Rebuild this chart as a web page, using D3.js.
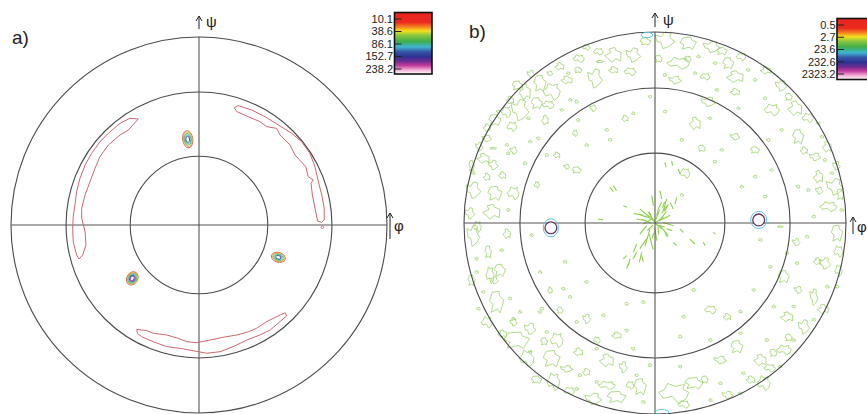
<!DOCTYPE html>
<html>
<head>
<meta charset="utf-8">
<script src="https://cdn.jsdelivr.net/npm/d3@7"></script>
<style>
  body { margin: 0; background: #fff; }
  svg { display: block; }
  text { font-family: "Liberation Sans", Arial, sans-serif; fill: #222; }
</style>
</head>
<body>
<script>
// pole figure rings (psi, degrees) - equal-area projection
const psiRings = [30, 60, 90];

// colour legend labels
const legendA = ["10.1", "38.6", "86.1", "152.7", "238.2"];
const legendB = ["0.5", "2.7", "23.6", "232.6", "2323.2"];

// a) level 10.1 contours, projected plane coords (outer circle = 1)
const contourUpperLeft = [[-0.323,0.564],[-0.367,0.568],[-0.420,0.541],[-0.473,0.496],[-0.527,0.443],[-0.571,0.381],[-0.606,0.319],[-0.633,0.248],[-0.651,0.177],[-0.660,0.106],[-0.669,0.044],[-0.672,-0.018],[-0.669,-0.089],[-0.651,-0.160],[-0.638,-0.181],[-0.619,-0.160],[-0.601,-0.106],[-0.606,-0.036],[-0.624,0.036],[-0.624,0.089],[-0.606,0.160],[-0.580,0.230],[-0.553,0.302],[-0.527,0.363],[-0.482,0.426],[-0.420,0.479],[-0.376,0.505]];
const contourUpperRight = [[0.188,0.624],[0.209,0.635],[0.280,0.612],[0.351,0.576],[0.422,0.532],[0.493,0.488],[0.546,0.443],[0.590,0.381],[0.617,0.310],[0.635,0.230],[0.653,0.160],[0.666,0.089],[0.666,0.027],[0.653,0.014],[0.631,0.021],[0.617,0.089],[0.603,0.160],[0.596,0.222],[0.608,0.240],[0.581,0.257],[0.568,0.310],[0.511,0.372],[0.484,0.426],[0.431,0.479],[0.413,0.514],[0.360,0.523],[0.324,0.550],[0.262,0.576],[0.201,0.603]];
const contourBottom = [[-0.331,-0.555],[-0.278,-0.562],[-0.243,-0.576],[-0.172,-0.585],[-0.110,-0.603],[-0.065,-0.621],[-0.012,-0.626],[0.059,-0.612],[0.129,-0.597],[0.201,-0.585],[0.262,-0.568],[0.307,-0.549],[0.360,-0.514],[0.413,-0.488],[0.457,-0.467],[0.466,-0.484],[0.431,-0.514],[0.378,-0.559],[0.324,-0.585],[0.254,-0.612],[0.182,-0.647],[0.112,-0.674],[0.041,-0.682],[-0.030,-0.669],[-0.101,-0.656],[-0.172,-0.647],[-0.243,-0.621],[-0.305,-0.594],[-0.328,-0.576]];
const dotsA = [[0.656,-0.012]];
// a) peaks: x, y, rx, ry, tilt, number of levels
const spotsA = [[-0.060,0.456,0.027,0.046,-8,5],[0.422,-0.172,0.038,0.026,15,5],[-0.355,-0.284,0.029,0.037,30,6]];

// b) level 2.7 islands: x, y, rx, ry (missing size = tiny)
const blobsB = [
  [-0.297,0.897,0.026,0.018],[-0.218,0.880,0.045,0.039],[-0.114,0.880,0.039,0.039],[-0.288,0.845,0.021,0.006],
  [-0.131,0.792,0.031,0.021],[-0.218,0.801,0.026,0.018],[-0.314,0.758,0.039,0.052],[-0.402,0.801,0.021,0.016],
  [-0.454,0.784],[-0.462,0.749,0.031,0.021],[-0.550,0.784,0.016,0.013],[-0.602,0.731,0.034,0.045],
  [-0.541,0.687,0.045,0.045],[-0.681,0.687,0.031,0.042],[-0.707,0.592,0.047,0.058],[-0.619,0.627,0.031,0.031],
  [-0.559,0.618,0.031,0.021],[-0.445,0.644],[-0.488,0.592],[-0.410,0.635],[-0.663,0.548],[-0.759,0.644,0.021,0.021],
  [-0.820,0.583],[-0.838,0.539,0.034,0.031],[-0.750,0.504,0.026,0.026],[-0.576,0.539,0.018,0.026],
  [-0.881,0.443,0.026,0.018],[-0.847,0.391,0.018,0.005],[-0.776,0.408],[-0.899,0.339,0.034,0.026],
  [-0.847,0.304,0.026,0.026],[-0.768,0.365],[-0.951,0.260],[-0.881,0.242,0.018,0.021],[-0.951,0.173,0.039,0.045],
  [-0.838,0.155,0.039,0.039],[-0.742,0.155,0.031,0.034],[-0.855,0.059,0.047,0.039],[-0.969,0.051,0.026,0.031],
  [-0.768,0.068],
  [-0.40,0.86,0.03,0.02],[-0.50,0.82,0.025,0.02],[-0.65,0.78,0.02,0.02],[-0.72,0.72,0.03,0.025],
  [-0.78,0.58,0.025,0.03],[-0.88,0.50,0.02,0.02],[-0.92,0.40,0.02,0.025],[-0.96,0.30,0.015,0.03],
  [-0.93,-0.02,0.02,0.03],[-0.80,0.25,0.02,0.02],[-0.74,0.38,0.02,0.02],[-0.05,0.95,0.03,0.02],[-0.36,0.92,0.02,0.015],
  [-0.157,0.548,0.018,0.018],[-0.323,0.601,0.018,0.018],[-0.402,0.539],[-0.419,0.470,0.013,0.018],
  [-0.515,0.356,0.018,0.016],[-0.462,0.295,0.016,0.013],[-0.410,0.277,0.026,0.018],[-0.619,0.199,0.013,0.018],
  [-0.654,0.426],[-0.611,0.443],[-0.567,0.356],[-0.253,0.487],[-0.114,0.574],[-0.026,0.661],[-0.681,0.313],
  [-0.236,0.435],[-0.358,0.408],
  [0.052,0.958,0.052,0.045],[0.174,0.941,0.045,0.034],[0.122,0.836,0.060,0.031],[0.227,0.871],
  [0.297,0.923,0.045,0.031],[0.384,0.836,0.031,0.031],[0.314,0.836],[0.419,0.766,0.047,0.031],[0.488,0.801],
  [0.524,0.749],[0.262,0.766,0.026,0.018],[0.209,0.784],[0.105,0.749,0.034,0.021],[0.052,0.775],[0.323,0.696],
  [0.419,0.687,0.026,0.018],[0.279,0.635,0.039,0.026],[0.576,0.653],[0.611,0.592,0.039,0.031],
  [0.733,0.601,0.039,0.039],[0.663,0.487],[0.750,0.452,0.031,0.039],[0.855,0.522],[0.873,0.452],
  [0.838,0.347,0.031,0.021],[0.890,0.330],[0.925,0.260],[0.855,0.242,0.026,0.034],[0.942,0.190,0.045,0.045],
  [0.803,0.173],[0.907,0.085,0.045,0.026],[0.977,0.068],[0.750,0.190],
  [0.35,0.90,0.03,0.02],[0.45,0.87,0.025,0.02],[0.58,0.80,0.03,0.02],[0.66,0.72,0.03,0.03],[0.70,0.66,0.02,0.02],
  [0.80,0.55,0.03,0.025],[0.90,0.40,0.025,0.03],[0.95,0.30,0.02,0.025],[0.97,0.15,0.02,0.03],[0.96,-0.15,0.025,0.03],
  [0.78,0.38,0.02,0.02],[0.86,0.17,0.02,0.02],[0.02,0.86,0.02,0.02],[0.17,0.86,0.02,0.015],
  [0.209,0.522,0.031,0.034],[0.419,0.452,0.026,0.018],[0.524,0.382,0.026,0.018],[0.052,0.583],[0.436,0.601],
  [0.288,0.548],[0.245,0.391,0.021,0.018],[0.349,0.382],[0.140,0.435],[0.593,0.435],[0.576,0.138],
  [0.524,0.242],[0.454,0.190],[0.611,0.277],[0.314,0.321],[0.157,0.260,0.026,0.026],[0.140,0.147],
  [-0.951,-0.064,0.034,0.058],[-0.873,-0.152,0.018,0.034],[-0.803,-0.143],[-0.776,-0.056,0.021,0.026],
  [-0.934,-0.187],[-0.812,-0.248,0.031,0.034],[-0.864,-0.274,0.021,0.045],[-0.934,-0.257],[-0.899,-0.361],
  [-0.829,-0.414,0.039,0.060],[-0.925,-0.449],[-0.742,-0.501],[-0.654,-0.553,0.031,0.031],
  [-0.724,-0.614,0.071,0.045],[-0.515,-0.614,0.034,0.039],[-0.567,-0.571],[-0.654,-0.675],
  [-0.541,-0.710,0.047,0.045],[-0.672,-0.710,0.039,0.045],[-0.402,-0.675,0.026,0.021],[-0.462,-0.763,0.034,0.018],
  [-0.393,-0.797],[-0.532,-0.832,0.034,0.047],[-0.253,-0.719,0.039,0.034],[-0.166,-0.754,0.021,0.031],
  [-0.305,-0.832],[-0.253,-0.850,0.045,0.021],[-0.410,-0.868],[-0.323,-0.920,0.045,0.031],
  [-0.201,-0.911,0.052,0.031],[-0.131,-0.850,0.021,0.021],[-0.061,-0.937],[-0.096,-0.797],[-0.026,-0.745],
  [-0.759,-0.396],[-0.707,-0.466],[-0.602,-0.466],
  [-0.96,-0.30,0.02,0.03],[-0.88,-0.52,0.03,0.03],[-0.80,-0.58,0.025,0.02],[-0.84,-0.30,0.02,0.02],
  [-0.62,-0.82,0.03,0.02],[-0.45,-0.88,0.03,0.02],[-0.36,-0.78,0.02,0.02],[-0.74,-0.52,0.02,0.02],[-0.58,-0.62,0.02,0.02],
  [-0.646,-0.064],[-0.550,-0.352,0.013,0.018],[-0.480,-0.344],[-0.497,-0.457,0.018,0.018],[-0.593,-0.449],
  [-0.445,-0.387],[-0.358,-0.501,0.021,0.026],[-0.410,-0.518],[-0.305,-0.614,0.018,0.018],
  [-0.201,-0.588,0.026,0.018],[-0.148,-0.562],[-0.305,-0.658],[-0.471,-0.204],[-0.602,-0.257],[-0.358,-0.309],
  [-0.148,-0.423],[-0.271,-0.483],[-0.061,-0.414],[-0.114,-0.658],
  [0.674,-0.281,0.031,0.034],[0.743,-0.211],[0.796,-0.072],[0.890,-0.211,0.031,0.031],[0.953,-0.054,0.031,0.045],
  [0.831,0.033],[0.901,-0.334],[0.832,-0.386,0.021,0.045],[0.953,-0.334],[0.726,-0.438],[0.691,-0.491,0.034,0.026],
  [0.780,-0.543,0.031,0.039],[0.586,-0.613],[0.675,-0.665,0.039,0.026],[0.551,-0.717,0.034,0.031],[0.464,-0.787],
  [0.429,-0.648,0.034,0.034],[0.569,-0.839,0.034,0.039],[0.342,-0.839],[0.342,-0.717,0.034,0.021],
  [0.204,-0.839,0.052,0.031],[0.098,-0.892,0.079,0.052],[0.290,-0.927],[0.447,-0.892],[0.656,-0.752],
  [0.831,-0.508],[0.726,-0.613],[0.132,-0.752],[-0.077,-0.857,0.034,0.045],
  [0.96,-0.25,0.02,0.03],[0.88,-0.45,0.03,0.025],[0.75,-0.35,0.02,0.02],[0.70,-0.60,0.02,0.02],[0.60,-0.76,0.03,0.02],
  [0.50,-0.82,0.025,0.02],[0.38,-0.90,0.03,0.02],[0.26,-0.82,0.02,0.02],[0.15,-0.95,0.03,0.02],[0.85,-0.20,0.02,0.02],
  [0.74,-0.10,0.02,0.02],[0.62,-0.68,0.02,0.02],
  [0.290,-0.455,0.031,0.021],[0.447,-0.464],[0.517,-0.351],[0.604,-0.229],[0.551,-0.089],[0.377,-0.491,0.021,0.018],
  [0.150,-0.491],[0.203,-0.351],[0.447,-0.577],[0.621,-0.438],[0.290,-0.613],[0.132,-0.595],[0.691,-0.159],
  [0.656,-0.019,0.016,0.005]
];
// b) short radial contour pieces around the pole: x1, y1, x2, y2
const dashesB = [
  [-0.017,0.143,-0.009,0.091],[0.026,0.169,0.035,0.126],[0.061,0.126,0.044,0.065],[0.079,0.108,0.096,0.073],
  [0.113,0.134,0.105,0.099],[-0.079,0.073,-0.026,0.030],[-0.052,0.038,-0.017,0.021],[-0.096,0.021,-0.044,0.012],
  [-0.026,-0.031,-0.052,-0.119],[0,-0.031,0.009,-0.092],[0.026,-0.014,0.070,-0.066],[0.044,0.003,0.096,-0.014],
  [0.009,0.038,0.017,0.073],[-0.044,-0.014,-0.079,-0.058],[-0.096,-0.110,-0.113,-0.154],[-0.070,-0.154,-0.082,-0.206],
  [-0.148,-0.171,-0.166,-0.188],[0.052,-0.049,0.065,-0.075],[0.131,-0.031,0.148,-0.049],[0.183,-0.084,0.209,-0.110],
  [0.096,-0.101,0.113,-0.119],[0.052,0.318,0.058,0.291],[0.087,0.326,0.092,0.300],[0.122,0.283,0.131,0.257],
  [-0.218,0.195,-0.201,0.169],[-0.236,0.187,-0.218,0.164],[-0.166,0.091,-0.148,0.082],[-0.297,0.021,-0.271,0.016],
  [0.253,-0.101,0.262,-0.119],[0.305,-0.049,0.314,-0.058],[-0.035,0.056,0,0.003],[0,0,0.044,0.030],
  [0,0,0.035,-0.031],[-0.017,0.021,-0.061,-0.005],[0.017,0.073,0.035,0.108],[-0.131,-0.188,-0.140,-0.223],
  [-0.079,-0.134,-0.043,-0.082],[-0.114,-0.187,-0.096,-0.152],[-0.148,-0.239,-0.140,-0.213],[-0.061,-0.204,-0.070,-0.169],
  [0.035,0.050,0.061,0.090],[-0.030,-0.060,-0.010,-0.140],[0.020,0.010,0.080,0.040],[-0.060,0.040,-0.110,0.050],
  [-0.010,0.010,-0.030,0.060],[0.010,-0.010,0.050,-0.020],[-0.010,-0.010,-0.040,-0.040],[0.005,0.020,0.025,0.070],
  [0.030,0.020,0.060,0.060],[-0.020,0.000,-0.070,0.020],[0.015,-0.020,0.020,-0.060],[-0.045,0.030,-0.080,0.045],
  [0.050,0.060,0.070,0.100],[0.040,0.080,0.050,0.110],[-0.005,-0.050,-0.015,-0.080],[0.060,-0.030,0.090,-0.040]
];
// b) peaks: x, y, rx, ry of outer (23.6) level, inner level radius
const spotsB = [[-0.545,-0.025,0.040,0.047,0.031],[0.543,0.016,0.042,0.045,0.031]];
const rimSpotsB = [[-0.042,0.984,0.030,0.014],[0.037,-0.990,0.035,0.014]];

const W = 867, H = 414;
const svg = d3.select("body").append("svg").attr("width", W).attr("height", H);

const defs = svg.append("defs");
const grad = defs.append("linearGradient").attr("id", "spec").attr("x1", 0).attr("x2", 0).attr("y1", 0).attr("y2", 1);
[["0%","#e8261f"],["16%","#ea2a1f"],["24%","#f58a1f"],["30%","#f3e11b"],["37%","#8cc63f"],["47%","#3fae4a"],
 ["56%","#3fb5d2"],["64%","#3554a5"],["72%","#2e3192"],["79%","#6a2c91"],["86%","#c03a9c"],["93%","#f2a9d3"],["100%","#ffffff"]]
  .forEach(([o, c]) => grad.append("stop").attr("offset", o).attr("stop-color", c));

const rho = psi => Math.SQRT2 * Math.sin(psi * Math.PI / 360);
const ringColors = ["#dc5a48", "#d4b43a", "#5cb84a", "#43b4c8", "#3d50a2", "#a94ba0"];
// outline templates for the small islands (unit box)
const shapes = [
  [[1,0.1],[0.6,0.45],[0.7,0.9],[0.1,0.7],[-0.4,1],[-0.6,0.4],[-1,0.1],[-0.7,-0.5],[-0.1,-0.3],[0.3,-1],[0.8,-0.6]],
  [[0.9,0.35],[0.3,0.6],[0.15,1],[-0.5,0.8],[-0.3,0.3],[-1,-0.1],[-0.5,-0.6],[-0.2,-1],[0.3,-0.5],[0.85,-0.8]],
  [[1,-0.2],[0.5,0.3],[0.6,0.8],[0,0.95],[-0.35,0.4],[-1,0.6],[-0.8,-0.2],[-0.4,-0.3],[-0.2,-1],[0.4,-0.75]],
  [[0.95,0.2],[0.4,0.5],[0.3,0.95],[-0.6,0.85],[-0.95,0.1],[-0.5,-0.2],[-0.7,-0.9],[0.1,-0.6],[0.5,-0.95]]
];

function pole(cx, cy, R) {
  const g = svg.append("g");
  const x = d3.scaleLinear([-1, 1], [cx - R, cx + R]);
  const y = d3.scaleLinear([-1, 1], [cy + R, cy - R]);
  const line = d3.line().x(d => x(d[0])).y(d => y(d[1])).curve(d3.curveLinearClosed);
  return { g, x, y, line };
}

function frame(p) {
  const { g, x, y } = p;
  g.selectAll("circle.ring").data(psiRings).join("circle")
    .attr("class", "ring")
    .attr("cx", x(0)).attr("cy", y(0))
    .attr("r", d => x(rho(d)) - x(0))
    .attr("fill", "none").attr("stroke", "#4a4a4a").attr("stroke-width", 1.1);
  g.append("line").attr("x1", x(-1)).attr("x2", x(1)).attr("y1", y(0)).attr("y2", y(0))
    .attr("stroke", "#555").attr("stroke-width", 1.1);
  g.append("line").attr("x1", x(0)).attr("x2", x(0)).attr("y1", y(1)).attr("y2", y(-1))
    .attr("stroke", "#555").attr("stroke-width", 1.1);
}

function arrow(g, ax, yBase, yTip, label, tx, ty) {
  g.append("path")
    .attr("d", `M${ax},${yBase}V${yTip}M${ax - 3},${yTip + 5}L${ax},${yTip}L${ax + 3},${yTip + 5}`)
    .attr("fill", "none").attr("stroke", "#222").attr("stroke-width", 1);
  g.append("text").attr("x", tx).attr("y", ty).attr("font-size", 15).text(label);
}

function colorbar(x0, y0, w, h, labels, t0, t1) {
  const g = svg.append("g");
  g.append("rect").attr("x", x0).attr("y", y0).attr("width", w).attr("height", h)
    .attr("fill", "url(#spec)").attr("stroke", "#111").attr("stroke-width", 1.6);
  const s = d3.scalePoint(labels, [t0, t1]);
  const t = g.selectAll("g.tk").data(labels).join("g").attr("class", "tk");
  t.append("line").attr("x1", x0).attr("x2", x0 + 7).attr("y1", d => s(d)).attr("y2", d => s(d))
    .attr("stroke", "#222").attr("stroke-width", 1);
  t.append("text").attr("x", x0 - 1.5).attr("y", d => s(d)).attr("dy", "0.36em")
    .attr("text-anchor", "end").attr("font-size", 11).text(d => d);
}

// ---------- panel a ----------
const pa = pole(199, 225, 188);
frame(pa);
pa.g.selectAll("path.c").data([contourUpperLeft, contourUpperRight, contourBottom]).join("path")
  .attr("class", "c").attr("d", pa.line)
  .attr("fill", "none").attr("stroke", "#cf6670").attr("stroke-width", 1);
pa.g.selectAll("circle.dot").data(dotsA).join("circle").attr("class", "dot")
  .attr("cx", d => pa.x(d[0])).attr("cy", d => pa.y(d[1])).attr("r", 1.3)
  .attr("fill", "none").attr("stroke", "#cf6670").attr("stroke-width", 0.8);
spotsA.forEach(([sx, sy, rx, ry, tilt, n]) => {
  const cxp = pa.x(sx), cyp = pa.y(sy);
  const rxp = pa.x(rx) - pa.x(0), ryp = pa.x(ry) - pa.x(0);
  d3.range(n).forEach(i => {
    const k = 1 - i * 0.8 / n;
    pa.g.append("ellipse").attr("cx", cxp).attr("cy", cyp)
      .attr("rx", rxp * k).attr("ry", ryp * k)
      .attr("transform", `rotate(${tilt},${cxp},${cyp})`)
      .attr("fill", "none").attr("stroke", ringColors[i]).attr("stroke-width", 0.9);
  });
});
arrow(pa.g, 199, 29, 16, "ψ", 206, 27);
arrow(pa.g, 390, 239, 213, "φ", 394, 231);
svg.append("text").attr("x", 12).attr("y", 44).attr("font-size", 19).text("a)");
colorbar(394.5, 12.5, 37.5, 61.5, legendA, 19, 69);

// ---------- panel b ----------
const pb = pole(655, 223, 191);
const green = "#a3d474";
pb.g.selectAll("path.b").data(blobsB).join("path").attr("class", "b")
  .attr("d", (d, i) => {
    const rx = d[2] || 0.010, ry = d[3] || 0.008;
    return pb.line(shapes[i % shapes.length].map(([u, v]) => [d[0] + u * rx, d[1] + v * ry]));
  })
  .attr("fill", "none").attr("stroke", green).attr("stroke-width", 0.85);
pb.g.selectAll("line.d").data(dashesB).join("line").attr("class", "d")
  .attr("x1", d => pb.x(d[0])).attr("y1", d => pb.y(d[1]))
  .attr("x2", d => pb.x(d[2])).attr("y2", d => pb.y(d[3]))
  .attr("stroke", "#8fcf4a").attr("stroke-width", 1.1);
frame(pb);
spotsB.forEach(([sx, sy, rx, ry, ri]) => {
  pb.g.append("ellipse").attr("cx", pb.x(sx)).attr("cy", pb.y(sy))
    .attr("rx", pb.x(rx) - pb.x(0)).attr("ry", pb.x(ry) - pb.x(0))
    .attr("fill", "none").attr("stroke", "#5cc6dc").attr("stroke-width", 1);
  pb.g.append("circle").attr("cx", pb.x(sx)).attr("cy", pb.y(sy))
    .attr("r", pb.x(ri) - pb.x(0))
    .attr("fill", "#fbf6fb").attr("stroke", "#5d3a5e").attr("stroke-width", 1.3);
});
pb.g.selectAll("ellipse.rim").data(rimSpotsB).join("ellipse").attr("class", "rim")
  .attr("cx", d => pb.x(d[0])).attr("cy", d => pb.y(d[1]))
  .attr("rx", d => pb.x(d[2]) - pb.x(0)).attr("ry", d => pb.x(d[3]) - pb.x(0))
  .attr("fill", "none").attr("stroke", "#5cc6dc").attr("stroke-width", 1);
arrow(pb.g, 853, 234, 217, "φ", 857, 232);
arrow(pb.g, 655, 27, 13, "ψ", 663, 25);
svg.append("text").attr("x", 469).attr("y", 38).attr("font-size", 19).text("b)");
colorbar(837, 18.5, 36, 61, legendB, 25, 74);
</script>
</body>
</html>
